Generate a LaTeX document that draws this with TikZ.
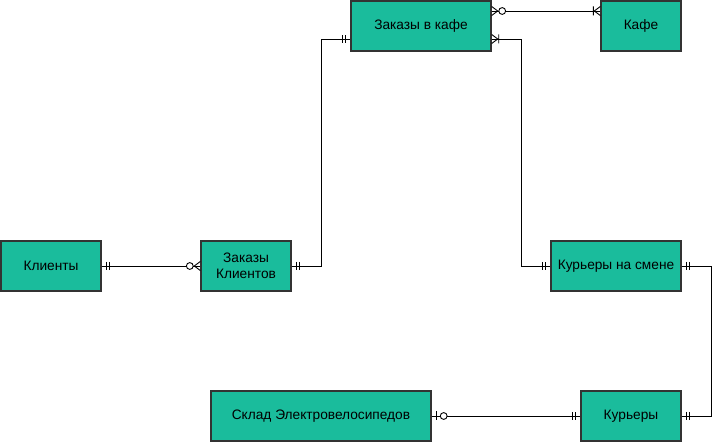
\documentclass[tikz,border=0pt]{standalone}
\usepackage{fontspec}
\setmainfont{Liberation Sans}
\definecolor{boxfill}{HTML}{1ABC9C}
\definecolor{boxline}{HTML}{333333}
\begin{document}
\begin{tikzpicture}[x=1pt,y=-1pt,
  box/.style={draw=boxline, line width=1.4pt, fill=boxfill, minimum height=50pt,
    inner sep=0pt, align=center, font=\fontsize{13.7}{15.5}\selectfont},
  conn/.style={draw=black, line width=0.9pt},
  ermark/.style={draw=black, line width=0.9pt},
  dbar/.pic={\draw[ermark] (5,-4)--(5,4) (8,-4)--(8,4);},
  crowcirc/.pic={\draw[ermark] (0,-4.5)--(6,0)--(0,4.5); \draw[ermark,fill=white] (10.5,0) circle (3.4);},
  crowbar/.pic={\draw[ermark] (0,-4.5)--(6,0)--(0,4.5) (7,-4.5)--(7,4.5);},
  barcirc/.pic={\draw[ermark] (5,-4.5)--(5,4.5); \draw[ermark,fill=white] (12,0) circle (3.4);}]
\useasboundingbox (0,0) rectangle (721,443);

\node[box, minimum width=140pt] (zk) at (421,26) {Заказы в кафе};
\node[box, minimum width=80pt] (kafe) at (641,26) {Кафе};
\node[box, minimum width=100pt] (kl) at (51,266) {Клиенты};
\node[box, minimum width=90pt] (zc) at (246,266) {Заказы\\Клиентов};
\node[box, minimum width=130pt] (ks) at (616,266) {Курьеры на смене};
\node[box, minimum width=220pt] (sklad) at (321,416) {Склад Электровелосипедов};
\node[box, minimum width=100pt] (kur) at (631,416) {Курьеры};

% connectors
\draw[conn] ([yshift=15pt]zk.east) -- ([yshift=15pt]kafe.west);
\draw[conn] ([yshift=-13pt]zk.east) -- ++(30,0) |- (ks.west);
\draw[conn] (zc.east) -- ++(30,0) |- ([yshift=-13pt]zk.west);
\draw[conn] (kl.east) -- (zc.west);
\draw[conn] (ks.east) -- ++(30,0) |- (kur.east);
\draw[conn] (sklad.east) -- (kur.west);

% end marks
\pic at ([yshift=15pt]zk.east) {crowcirc};
\pic[rotate=180] at ([yshift=15pt]kafe.west) {crowbar};
\pic at ([yshift=-13pt]zk.east) {crowbar};
\pic[rotate=180] at (ks.west) {dbar};
\pic at (zc.east) {dbar};
\pic[rotate=180] at ([yshift=-13pt]zk.west) {dbar};
\pic at (kl.east) {dbar};
\pic[rotate=180] at (zc.west) {crowcirc};
\pic at (ks.east) {dbar};
\pic at (kur.east) {dbar};
\pic at (sklad.east) {barcirc};
\pic[rotate=180] at (kur.west) {dbar};
\end{tikzpicture}
\end{document}
